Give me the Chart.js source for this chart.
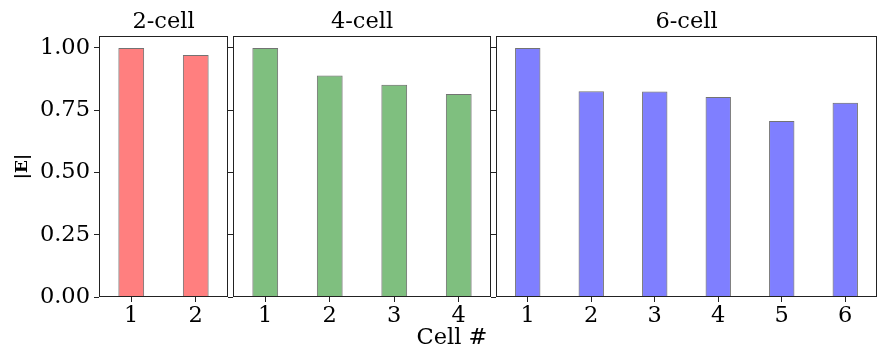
<!DOCTYPE html>
<html lang="en">
<head>
  <meta charset="UTF-8" />
  <title>Cell |E| bars</title>
  <script src="https://cdn.jsdelivr.net/npm/chart.js"></script>
  <style>
    body { margin: 0; background: #fff; }
    #wrap { position: relative; width: 878px; height: 351px; overflow: hidden; }
    #wrap canvas { position: absolute; top: 0; }
    #xlabel { position: absolute; left: 352px; width: 200px; top: 323px; text-align: center;
      font-family: 'DejaVu Serif', serif; font-size: 22.5px; color: #000; }
  </style>
</head>
<body>
  <div id="wrap">
    <canvas id="c2"></canvas>
    <canvas id="c4"></canvas>
    <canvas id="c6"></canvas>
    <div id="xlabel">Cell #</div>
  </div>

  <script>
    // values
    const cells2 = ['1', '2'];
    const cells4 = ['1', '2', '3', '4'];
    const cells6 = ['1', '2', '3', '4', '5', '6'];
    const vals2 = [1.0, 0.972];
    const vals4 = [1.0, 0.889, 0.852, 0.815];
    const vals6 = [1.0, 0.826, 0.825, 0.803, 0.707, 0.780];
    const yTicks = [0, 0.25, 0.5, 0.75, 1.0];

    const FONT = 'DejaVu Serif';
    const FS = 22.5;

    // box around each panel, like matplotlib spines
    const frame = {
      id: 'frame',
      afterDraw(chart) {
        const a = chart.chartArea, ctx = chart.ctx;
        ctx.save();
        ctx.strokeStyle = '#222';
        ctx.lineWidth = 1;
        ctx.strokeRect(Math.round(a.left) + 0.5, Math.round(a.top) + 0.5,
          Math.round(a.right - a.left) - 1, Math.round(a.bottom - a.top) - 1);
        ctx.restore();
      }
    };

    function panel(id, left, width, title, labels, vals, fill, yWidth, padRight, showY) {
      const el = document.getElementById(id);
      el.style.left = left + 'px';
      el.width = width; el.height = 351;
      el.style.width = width + 'px'; el.style.height = '351px';
      return new Chart(el, {
        type: 'bar',
        data: { labels: labels, datasets: [{
          data: vals,
          backgroundColor: fill,
          borderColor: 'rgba(0,0,0,0.55)',
          borderWidth: 1,
          barPercentage: 0.4,
          categoryPercentage: 1.0
        }]},
        options: {
          responsive: false,
          animation: false,
          layout: { padding: { left: 0, right: padRight, top: 0, bottom: 0 } },
          plugins: {
            legend: { display: false },
            tooltip: { enabled: false },
            title: { display: true, text: title, color: '#000', fullSize: false,
              font: { family: FONT, size: FS, weight: 'normal' }, padding: { top: 9, bottom: 0 } }
          },
          scales: {
            x: {
              grid: { display: true, offset: false, drawOnChartArea: false, drawTicks: true, tickLength: 5, color: '#222' },
              border: { display: false },
              ticks: { color: '#000', font: { family: FONT, size: FS }, padding: 1, maxRotation: 0 },
              afterFit: s => { s.height = 54; }
            },
            y: {
              min: 0, max: 1.048,
              afterBuildTicks: s => { s.ticks = yTicks.map(v => ({ value: v })); },
              grid: { display: true, drawOnChartArea: false, drawTicks: true, tickLength: 5, color: '#222' },
              border: { display: false },
              ticks: { color: '#000', font: { family: FONT, size: FS }, padding: 4,
                callback: v => showY ? Number(v).toFixed(2) : '' },
              title: { display: showY, text: '|E|', color: '#000',
                font: { family: FONT, size: 17, weight: 'bold' }, padding: { top: 12, bottom: 0 } },
              afterFit: s => { s.width = yWidth; }
            }
          }
        },
        plugins: [frame]
      });
    }

    panel('c2', 0, 230, '2-cell', cells2, vals2, 'rgba(255,0,0,0.5)', 99, 2, true);
    panel('c4', 226, 269, '4-cell', cells4, vals4, 'rgba(0,128,0,0.5)', 7, 4, false);
    panel('c6', 489, 389, '6-cell', cells6, vals6, 'rgba(0,0,255,0.5)', 7, 1, false);
  </script>
</body>
</html>
